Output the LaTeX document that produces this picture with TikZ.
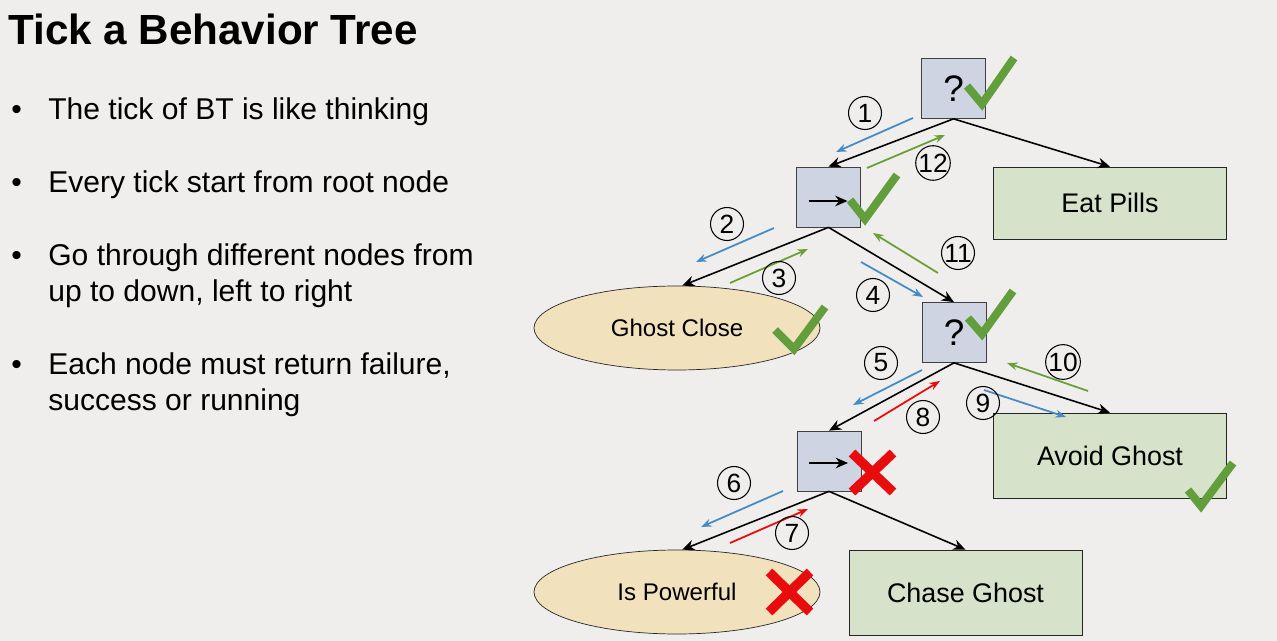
\documentclass[tikz,border=0pt]{standalone}
\usepackage{fontspec}
\setmainfont{Liberation Sans}
\usetikzlibrary{arrows.meta,calc,shapes.geometric}

\definecolor{slidebg}{RGB}{239,238,236}
\definecolor{ctrlfill}{RGB}{206,212,225}
\definecolor{actfill}{RGB}{214,227,202}
\definecolor{condfill}{RGB}{242,225,189}
\definecolor{tickblue}{RGB}{70,138,198}
\definecolor{tickgreen}{RGB}{104,160,52}
\definecolor{tickred}{RGB}{232,12,12}
\definecolor{okgreen}{RGB}{98,158,60}

\tikzset{
  ctrlbox/.style={draw=black!75, fill=ctrlfill, minimum width=1.28cm, minimum height=1.2cm,
    inner sep=0pt, font=\fontsize{21}{21}\selectfont},
  actbox/.style={draw=black!85, fill=actfill, minimum width=4.66cm, inner sep=0pt,
    font=\fontsize{15.3}{18}\selectfont},
  condell/.style={ellipse, draw=black!85, fill=condfill, minimum width=5.72cm, minimum height=1.68cm,
    inner sep=0pt, font=\fontsize{13.7}{16}\selectfont},
  treeedge/.style={-{Stealth[length=7pt,width=6pt]}, line width=0.9pt},
  tickarrow/.style={-{Stealth[length=6pt,width=4.5pt]}, line width=1pt},
  stepnum/.style={circle, draw, line width=0.6pt, minimum size=0.66cm, inner sep=0pt,
    font=\fontsize{15}{15}\selectfont},
  okmark/.style={okgreen, line width=4.6pt, line join=miter},
  failmark/.style={tickred, line width=5.4pt},
  bullettext/.style={anchor=base west, inner sep=0pt, font=\fontsize{17.1}{20}\selectfont}
}

\begin{document}
\begin{tikzpicture}[x=0.02cm, y=-0.02cm]
  % slide background
  \fill[slidebg] (0,0) rectangle (1277,641);
  \useasboundingbox (0,0) rectangle (1277,641);

  % title and bullets
  \node[anchor=base west, inner sep=0pt, font=\fontsize{24}{26}\selectfont\bfseries] (title) at (8,45) {Tick a Behavior Tree};
  \node[bullettext] (dot1) at (11,120) {\textbullet};
  \node[bullettext] (line1) at (48,120) {The tick of BT is like thinking};
  \node[bullettext] (dot2) at (11,193) {\textbullet};
  \node[bullettext] (line2) at (48,193) {Every tick start from root node};
  \node[bullettext] (dot3) at (11,266) {\textbullet};
  \node[bullettext] (line3) at (48,266) {Go through different nodes from};
  \node[bullettext] (line3b) at (48,302) {up to down, left to right};
  \node[bullettext] (dot4) at (11,375) {\textbullet};
  \node[bullettext] (line4) at (48,375) {Each node must return failure,};
  \node[bullettext] (line4b) at (48,411) {success or running};

  % tree nodes
  \node[ctrlbox] (root) at (953.5,88.5) {?};
  \node[ctrlbox] (seqA) at (828.5,197) {};
  \node[actbox, minimum height=1.44cm] (eat) at (1110,203) {Eat Pills};
  \node[condell] (close) at (677,328) {Ghost Close};
  \node[ctrlbox] (selB) at (954,332.5) {?};
  \node[ctrlbox] (seqB) at (829,461) {};
  \node[actbox, minimum height=1.7cm] (avoid) at (1110,455.5) {Avoid Ghost};
  \node[condell] (power) at (677,592) {Is Powerful};
  \node[actbox, minimum height=1.7cm] (chase) at (965.5,592.5) {Chase Ghost};

  % sequence symbols
  \draw[treeedge] ($(seqA.center)+(-20,4)$) -- +(39,0);
  \draw[treeedge] ($(seqB.center)+(-20,2)$) -- +(39,0);

  % edges of the tree
  \draw[treeedge] (root.south) -- (seqA.north);
  \draw[treeedge] (root.south) -- (eat.north);
  \draw[treeedge] (seqA.south) -- ([xshift=3pt]close.north);
  \draw[treeedge] (seqA.south) -- (selB.north);
  \draw[treeedge] (selB.south) -- (seqB.north);
  \draw[treeedge] (selB.south) -- (avoid.north);
  \draw[treeedge] (seqB.south) -- ([xshift=3pt]power.north);
  \draw[treeedge] (seqB.south) -- (chase.north);

  % tick order
  \draw[tickarrow, tickblue] (913,118) -- (836,152);
  \node[stepnum] (n1) at (865,113) {1};
  \draw[tickarrow, tickblue] (774,228) -- (696,262);
  \node[stepnum] (n2) at (727,224) {2};
  \draw[tickarrow, tickgreen] (730,283) -- (808,249);
  \node[stepnum] (n3) at (779,278) {3};
  \draw[tickarrow, tickblue] (861,262) -- (923,297);
  \node[stepnum] (n4) at (873,295) {4};
  \draw[tickarrow, tickblue] (922,370) -- (853,405);
  \node[stepnum] (n5) at (881,363) {5};
  \draw[tickarrow, tickblue] (783,491) -- (701,527);
  \node[stepnum] (n6) at (734,483) {6};
  \draw[tickarrow, tickred] (730,543) -- (808,509);
  \node[stepnum] (n7) at (792,533) {7};
  \draw[tickarrow, tickred] (874,421) -- (940,381);
  \node[stepnum] (n8) at (923,417) {8};
  \draw[tickarrow, tickblue] (984,390) -- (1066,417);
  \node[stepnum] (n9) at (983,403) {9};
  \draw[tickarrow, tickgreen] (1088,391) -- (1007,363);
  \node[stepnum] (n10) at (1063,362) {10};
  \draw[tickarrow, tickgreen] (938,273) -- (873,233);
  \node[stepnum] (n11) at (958,253) {11};
  \draw[tickarrow, tickgreen] (867,168) -- (945,135);
  \node[stepnum] (n12) at (933,163) {12};

  % results
  \draw[okmark] (967,86) -- (982,104) -- (1014,58);
  \draw[okmark] (850,200) -- (865,219) -- (897,175);
  \draw[okmark] (775,330) -- (794,349) -- (825,307);
  \draw[okmark] (968,318) -- (982,334) -- (1013,291);
  \draw[okmark] (1188,490) -- (1201,506) -- (1233,463);
  \draw[failmark] (852,453) -- (893,492);
  \draw[failmark] (852,492) -- (893,453);
  \draw[failmark] (769,572) -- (810,612);
  \draw[failmark] (769,612) -- (810,572);
\end{tikzpicture}
\end{document}
